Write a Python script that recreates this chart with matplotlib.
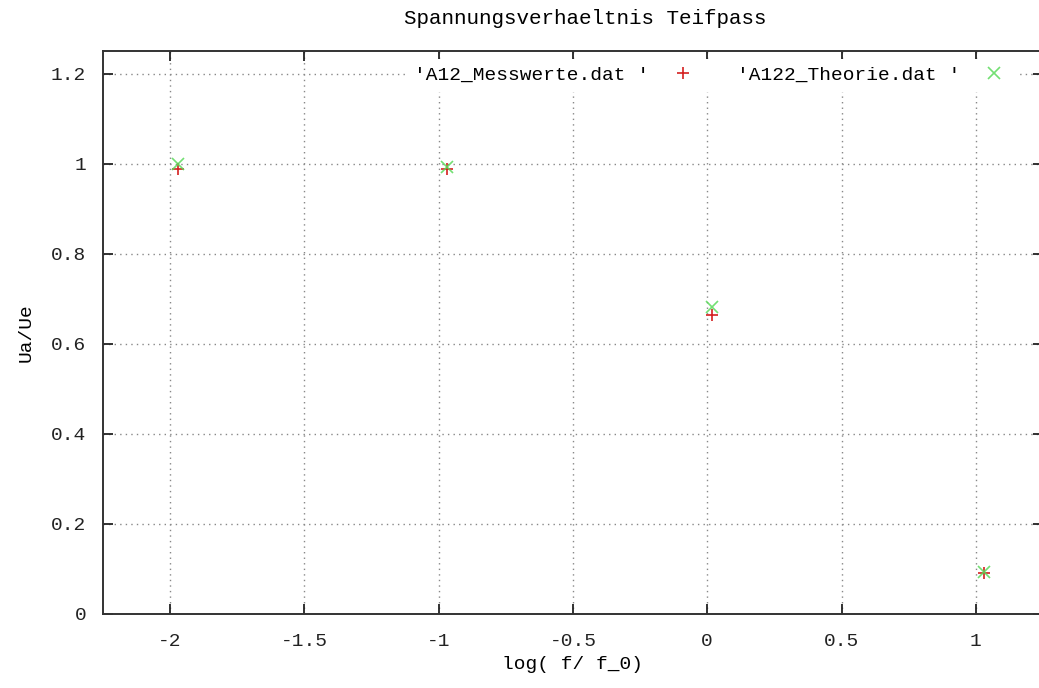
import matplotlib
matplotlib.use("Agg")
import matplotlib.pyplot as plt

# Messwerte (rot) und Theorie (gruen)
x_mess = [-1.97, -0.97, 0.017, 1.03]
y_mess = [0.987, 0.987, 0.664, 0.092]
x_theo = [-1.97, -0.97, 0.017, 1.03]
y_theo = [1.0, 0.993, 0.682, 0.093]

x_ticks = [-2, -1.5, -1, -0.5, 0, 0.5, 1]
x_ticklabels = ["-2", "-1.5", "-1", "-0.5", "0", "0.5", "1"]
y_ticks = [0, 0.2, 0.4, 0.6, 0.8, 1.0, 1.2]
y_ticklabels = ["0", "0.2", "0.4", "0.6", "0.8", "1", "1.2"]

FONT = "Liberation Mono"

fig = plt.figure(figsize=(10.39, 6.88), dpi=100)
ax = fig.add_axes([0.0991, 0.1076, 0.9047, 0.8183])

ax.plot(x_mess, y_mess, linestyle="none", marker="+", markersize=9,
        markeredgewidth=1.2, color="#d42020", label="'A12_Messwerte.dat '")
ax.plot(x_theo, y_theo, linestyle="none", marker="x", markersize=8,
        markeredgewidth=1.2, color="#5ada5a", alpha=0.85, label="'A122_Theorie.dat '")

ax.set_xlim(-2.25, 1.25)
ax.set_ylim(0, 1.25)
ax.set_xticks(x_ticks)
ax.set_xticklabels(x_ticklabels, family=FONT, fontsize=14)
ax.set_yticks(y_ticks)
ax.set_yticklabels(y_ticklabels, family=FONT, fontsize=14)
ax.tick_params(direction="in", length=7, width=1.3, top=True, right=True,
               colors="#222222")
ax.tick_params(axis="x", pad=14)
ax.tick_params(axis="y", pad=12)

ax.grid(True, linestyle=(0, (1, 3)), color="#888888", linewidth=1)
for s in ax.spines.values():
    s.set_linewidth(1.4)
    s.set_color("#333333")

ax.set_xlabel("log( f/ f_0)", family=FONT, fontsize=14, labelpad=4)
ax.set_ylabel("Ua/Ue", family=FONT, fontsize=14, labelpad=12)
fig.text(585 / 1039, 1 - 18 / 688, "Spannungsverhaeltnis Teifpass",
         family=FONT, fontsize=15, ha="center", va="center")

leg = ax.legend(loc="upper right", bbox_to_anchor=(0.98, 1.0), ncol=2,
                markerfirst=False, frameon=True, fancybox=False,
                prop={"family": FONT, "size": 14}, handlelength=1.5,
                columnspacing=2.0, borderaxespad=0.4, handletextpad=1.0)
leg.get_frame().set_facecolor("white")
leg.get_frame().set_edgecolor("none")
leg.get_frame().set_alpha(1)

fig.savefig("out.png", dpi=100)
